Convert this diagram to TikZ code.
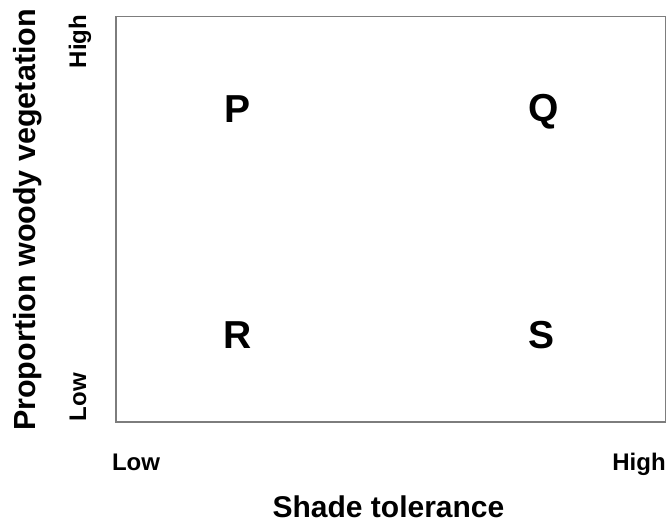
\documentclass[tikz,border=0pt]{standalone}
\usepackage{fontspec}
\setmainfont{Liberation Sans}
\begin{document}
\begin{tikzpicture}[x=1pt,y=-1pt,
  letter/.style={anchor=base,inner sep=0pt,font=\fontsize{39}{40}\selectfont\bfseries},
  axistitle/.style={anchor=base,inner sep=0pt,font=\fontsize{30}{32}\selectfont\bfseries},
  ticklab/.style={anchor=base,inner sep=0pt,font=\fontsize{24}{26}\selectfont\bfseries},
  frame/.style={draw={rgb,255:red,125;green,125;blue,125},line width=1.8pt,inner sep=0pt,outer sep=0pt}]
\useasboundingbox (0,0) rectangle (668,523);
\node[frame,minimum width=549.5pt,minimum height=405.5pt] (box) at (390.75,219.25) {};
\node[letter] (P) at (238,122) {P};
\node[letter] (Q) at (544,121) {Q};
\node[letter] (R) at (238,348) {R};
\node[letter] (S) at (541.5,348) {S};
\node[axistitle] (xt) at (388.5,517.5) {Shade tolerance};
\node[axistitle,rotate=90,font=\fontsize{30.5}{32}\selectfont\bfseries] (yt) at (35,220) {Proportion woody vegetation};
\node[ticklab] (xlow) at (136,470) {Low};
\node[ticklab] (xhigh) at (639,470) {High};
\node[ticklab,rotate=90] (ylow) at (86,397) {Low};
\node[ticklab,rotate=90] (yhigh) at (86,41.5) {High};
\end{tikzpicture}
\end{document}
